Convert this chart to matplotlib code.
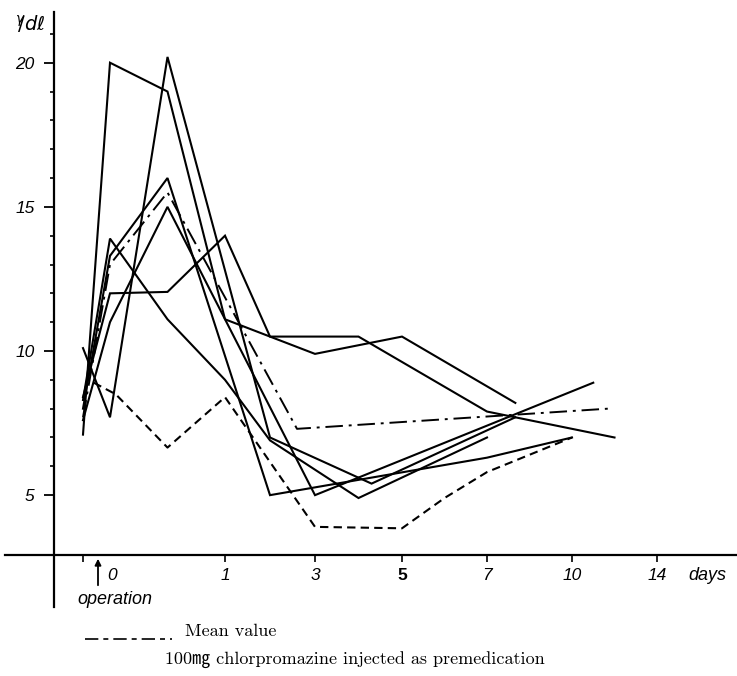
import numpy as np
import matplotlib.pyplot as plt
from matplotlib.lines import Line2D

W, H = 737, 676

# ---------------------------------------------------------------- data
# time points in days (-0.25 = before operation), values in gamma/dl
s1_days = [-0.25, 0, 0.5, 1, 3, 5, 8]
s1_vals = [7.1, 20.0, 19.0, 11.1, 9.9, 10.5, 8.2]

s2_days = [-0.25, 0, 0.5, 2, 4.3, 8]
s2_vals = [10.1, 7.7, 20.2, 7.0, 5.4, 7.7]

s3_days = [-0.25, 0, 0.5, 2, 7, 10]
s3_vals = [8.0, 13.3, 16.0, 5.0, 6.3, 7.0]

s4_days = [-0.25, 0, 0.5, 3, 11]
s4_vals = [7.6, 11.0, 15.0, 5.0, 8.9]

s5_days = [-0.25, 0, 0.5, 1, 2, 4, 7]
s5_vals = [8.3, 13.9, 11.1, 9.0, 6.9, 4.9, 7.0]

s6_days = [-0.25, 0, 0.5, 1, 2, 4, 7, 12]
s6_vals = [8.4, 12.0, 12.05, 14.0, 10.5, 10.5, 7.9, 7.0]

dashed_days = [-0.15, 0.05, 0.5, 1, 3, 5, 6, 7, 10]
dashed_vals = [8.9, 8.5, 6.65, 8.4, 3.9, 3.85, 4.9, 5.8, 7.0]

mean_days = [-0.25, 0, 0.5, 2.6, 11.7]
mean_vals = [7.7, 13.0, 15.5, 7.3, 8.0]

tick_days = [1, 3, 5, 7, 10, 14]
tick_labels = ['1', '3', '5', '7', '10', '14']

# the time axis of the original is not linear: knots of days -> drawing units
KD = [-2.0, -0.25, 0, 1, 3, 5, 7, 10, 14, 20]
KU = [-133, 83, 110, 225, 315, 402, 487, 572, 657, 784.5]


def fwd(d):
    return np.interp(d, KD, KU)


def inv(u):
    return np.interp(u, KU, KD)


def fx(x):
    return x / W


def fy(y):
    return 1 - y / H


# y value <-> pixel row of the original
def val_at(y):
    return 10 + (351 - y) / 28.83


fig = plt.figure(figsize=(W / 100, H / 100), dpi=100)
ax = fig.add_axes([0, 0, 1, 1])
ax.set_xscale('function', functions=(fwd, inv))
ax.set_xlim(inv(0), inv(W))
ax.set_ylim(val_at(H), val_at(0))

for d, v in [(s1_days, s1_vals), (s2_days, s2_vals), (s3_days, s3_vals),
             (s4_days, s4_vals), (s5_days, s5_vals), (s6_days, s6_vals)]:
    ax.plot(d, v, color='black', lw=1.5, solid_joinstyle='miter')

ax.plot(dashed_days, dashed_vals, color='black', lw=1.5, dashes=(4, 2.5))
ax.plot(mean_days, mean_vals, color='black', lw=1.4, dashes=(9, 3, 1.5, 3))

# axes lines
for s in ['top', 'right']:
    ax.spines[s].set_visible(False)
ax.spines['left'].set_position(('data', inv(54)))
ax.spines['left'].set_bounds(val_at(607), val_at(12))
ax.spines['bottom'].set_position(('data', val_at(555)))
ax.spines['bottom'].set_bounds(inv(5), inv(W))
ax.spines['left'].set_linewidth(1.6)
ax.spines['bottom'].set_linewidth(1.6)

ax.set_yticks([5, 10, 15, 20])
ax.set_yticklabels(['5', '10', '15', '20'])
ax.set_yticks([6, 7, 8, 9, 11, 12, 13, 14, 16, 17, 18, 19, 21], minor=True)
ax.tick_params(axis='y', which='major', direction='out', length=7, width=1.3,
               pad=7, labelsize=12.5)
ax.tick_params(axis='y', which='minor', direction='out', length=3, width=1.2)

ax.set_xticks(tick_days)
ax.set_xticklabels(tick_labels)
ax.set_xticks([-0.25], minor=True)
ax.tick_params(axis='x', which='major', direction='out', length=5, width=1.2,
               pad=4, labelsize=12.5)
ax.tick_params(axis='x', which='minor', direction='out', length=5, width=1.2)

for lab in ax.get_xticklabels() + ax.get_yticklabels():
    lab.set_fontfamily('Liberation Sans')
    lab.set_fontstyle('italic')
ax.get_xticklabels()[2].set_fontweight('bold')
ax.get_xticklabels()[2].set_fontstyle('normal')

sans = dict(family=['Liberation Sans', 'DejaVu Sans'], style='italic', color='black')
fig.text(fx(112), fy(576), '0', ha='center', va='center', fontsize=12.5, **sans)
fig.text(fx(688), fy(576), 'days', ha='left', va='center', fontsize=13, **sans)
fig.text(fx(115), fy(599), 'operation', ha='center', va='center', fontsize=13, **sans)
fig.text(fx(15), fy(24), r'$^{\gamma}\!\!/\mathit{d\ell}$', ha='left', va='center',
         fontsize=14, color='black')

ax.annotate('', xy=(fx(98), fy(556)), xytext=(fx(98), fy(588)),
            xycoords='figure fraction', textcoords='figure fraction',
            arrowprops=dict(arrowstyle='-|>', color='black', lw=1.3,
                            mutation_scale=9))

# legend / caption
fig.add_artist(Line2D([fx(85), fx(172)], [fy(639), fy(639)], color='black',
                      lw=1.2, dashes=(8, 3, 3, 3), transform=fig.transFigure))
serif = dict(family=['cmr10', 'Noto Sans CJK JP'], color='black')
fig.text(fx(185), fy(631), 'Mean value', ha='left', va='center', fontsize=13, **serif)
fig.text(fx(165), fy(660), '100㎎ chlorpromazine injected as premedication',
         ha='left', va='center', fontsize=13, **serif)

fig.savefig('out.png', dpi=100)
